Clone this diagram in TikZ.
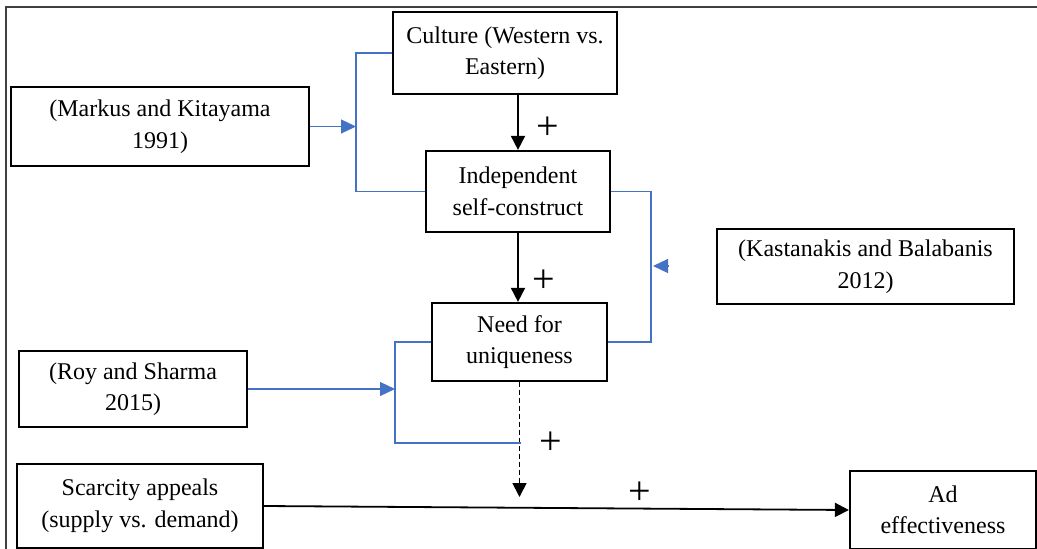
\documentclass[tikz,border=0pt]{standalone}
\usepackage{fontspec}
\setmainfont{Liberation Serif}
\usetikzlibrary{arrows.meta}
\definecolor{lnblue}{HTML}{4472C4}
\begin{document}
\begin{tikzpicture}[x=1pt,y=-1pt,
  box/.style={draw=black,line width=2.2pt,align=center,inner sep=0pt,
    font=\rmfamily\fontsize{24}{31.5}\selectfont},
  arr/.style={line width=1.8pt,-{Triangle[length=14pt,width=14pt]}},
  blu/.style={draw=lnblue,line width=1.2pt},
  barr/.style={draw=lnblue,fill=lnblue,line width=1.2pt,-{Triangle[length=15pt,width=14pt]}},
  plus/.style={font=\rmfamily\fontsize{40}{40}\selectfont,inner sep=0pt}]
\useasboundingbox (0,0) rectangle (1037,549);
\draw[line width=1.6pt,draw=black!75] (6,549) -- (6,7) -- (1037,7);
% boxes
\node[box,minimum width=224pt,minimum height=82pt] (c) at (505,53) {Culture (Western vs.\\Eastern)};
\node[box,minimum width=298pt,minimum height=79pt] (m) at (160,126.5) {(Markus and Kitayama\\1991)};
\node[box,minimum width=184pt,minimum height=81pt] (i) at (518,191.5) {Independent\\self-construct};
\node[box,minimum width=297pt,minimum height=75pt] (k) at (865.5,266.5) {(Kastanakis and Balabanis\\2012)};
\node[box,minimum width=175pt,minimum height=78pt] (n) at (519.5,342) {Need for\\uniqueness};
\node[box,minimum width=228pt,minimum height=76pt] (r) at (133,389) {(Roy and Sharma\\2015)};
\node[box,minimum width=246pt,minimum height=84pt] (s) at (140,506) {Scarcity appeals\\(supply vs. demand)};
\node[box,minimum width=186pt,minimum height=78pt] (a) at (943,510) {Ad\\effectiveness};
% coordinates
\coordinate (b1) at (356,53);
\coordinate (b1m) at (356,126.5);
\coordinate (b2) at (651,191.5);
\coordinate (kt) at (668,266);
\coordinate (kh) at (653,266);
\coordinate (b3) at (395,342);
\coordinate (b3r) at (395,389);
\coordinate (b3e) at (521,443);
\coordinate (dd) at (519.5,497);
% black arrows
\draw[arr] (c.south -| i.north) -- (i.north);
\draw[arr] (i.south) -- (i.south |- n.north);
\draw[arr,dash pattern=on 5pt off 3pt] (n.south) -- (dd);
\draw[arr] (s.east) -- (a.west);
% blue brackets
\draw[blu] (c.west) -- (b1) |- (i.west);
\draw[barr] (m.east) -- (b1m);
\draw[blu] (i.east) -- (b2) |- (n.east);
\draw[barr] (kt) -- (kh);
\draw[blu] (n.west) -- (b3) |- (b3e);
\draw[barr] (r.east) -- (b3r);
% plus labels
\node[plus] (p1) at (548,128) {+};
\node[plus] (p2) at (544,281) {+};
\node[plus] (p3) at (551,443) {+};
\node[plus] (p4) at (640,493) {+};
\end{tikzpicture}
\end{document}
